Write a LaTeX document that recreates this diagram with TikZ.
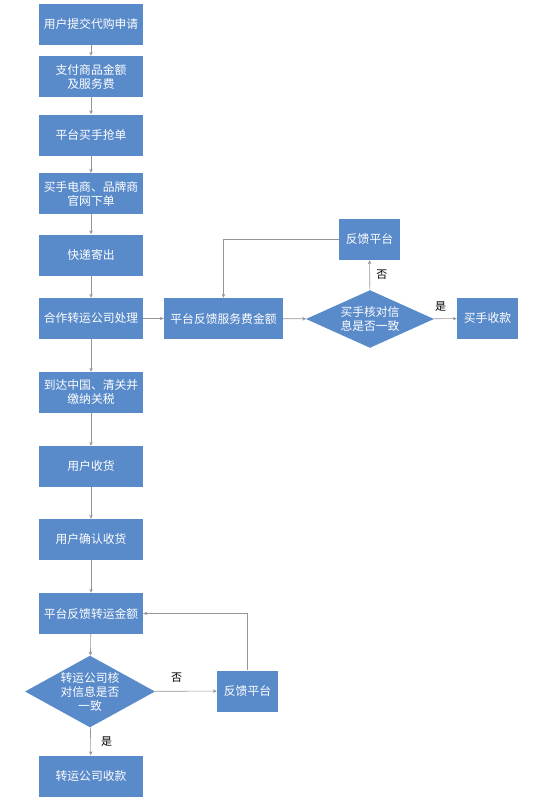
\documentclass[tikz,border=0pt]{standalone}
\usepackage{fontspec}
\setmainfont{Noto Sans CJK SC}
\usetikzlibrary{shapes.geometric,arrows.meta}
\definecolor{boxblue}{RGB}{89,138,202}
\definecolor{linegray}{RGB}{150,150,150}
\begin{document}
\begin{tikzpicture}[x=1pt,y=-1pt]
    \tikzset{
        stepbox/.style={fill=boxblue, text=white, minimum width=104pt, minimum height=41pt,
            align=center, inner sep=0pt, font=\fontsize{11.8}{14}\selectfont},
        smallbox/.style={stepbox, minimum width=61pt},
        wideboxr/.style={stepbox, minimum width=119pt},
        choice/.style={diamond, fill=boxblue, text=white, align=center, inner sep=0pt,
            shape aspect=1.8, font=\fontsize{11.8}{14}\selectfont},
        arc/.style={-{Stealth[length=4pt,width=3.5pt]}, draw=linegray, line width=0.6pt},
        lbl/.style={font=\fontsize{11}{13}\selectfont}
    }
    \useasboundingbox (0,0) rectangle (549,803);
    % main column
    \node[stepbox] (a) at (91,24) {用户提交代购申请};
    \node[stepbox] (b) at (91,76.5) {支付商品金额\\及服务费};
    \node[stepbox] (c) at (91,135) {平台买手抢单};
    \node[stepbox] (d) at (91,193.5) {买手电商、品牌商\\官网下单};
    \node[stepbox] (e) at (91,255) {快递寄出};
    \node[stepbox] (f) at (91,318.5) {合作转运公司处理};
    \node[stepbox] (g) at (91,392.5) {到达中国、清关并\\缴纳关税};
    \node[stepbox] (h) at (91,466.5) {用户收货};
    \node[stepbox] (i) at (91,539.5) {用户确认收货};
    \node[stepbox] (j) at (91,613.5) {平台反馈转运金额};
    \node[choice, minimum width=130pt, minimum height=71pt] (k) at (90,691.5) {转运公司核\\对信息是否\\一致};
    \node[stepbox] (l) at (91,776) {转运公司收款};
    \node[smallbox] (m) at (247.5,691) {反馈平台};
    % buyer branch
    \node[wideboxr] (n) at (223.5,318.5) {平台反馈服务费金额};
    \node[choice, minimum width=128pt, minimum height=54pt] (o) at (370,319) {买手核对信\\息是否一致};
    \node[smallbox] (p) at (487.5,318.5) {买手收款};
    \node[smallbox] (q) at (369.5,239.5) {反馈平台};
    \foreach \x/\y in {%
        a/b,b/c,c/d,d/e,e/f,f/g,g/h,h/i,i/j,j/k,f/n,n/o%
    }
    {
        \draw (\x) edge[arc] (\y);
    }
    \draw[arc] (k) -- node[lbl, right=7pt, pos=0.5] {是} (l);
    \draw[arc] (k) -- node[lbl, above=5pt, pos=0.35] {否} (m);
    \draw[arc] (o) -- node[lbl, above=4pt, pos=0.3] {是} (p);
    \draw[arc] (o) -- node[lbl, right=3pt] {否} (q);
    \draw[arc] (m.north) |- (j.east);
    \draw[arc] (q.west) -| (n.north);
\end{tikzpicture}
\end{document}
